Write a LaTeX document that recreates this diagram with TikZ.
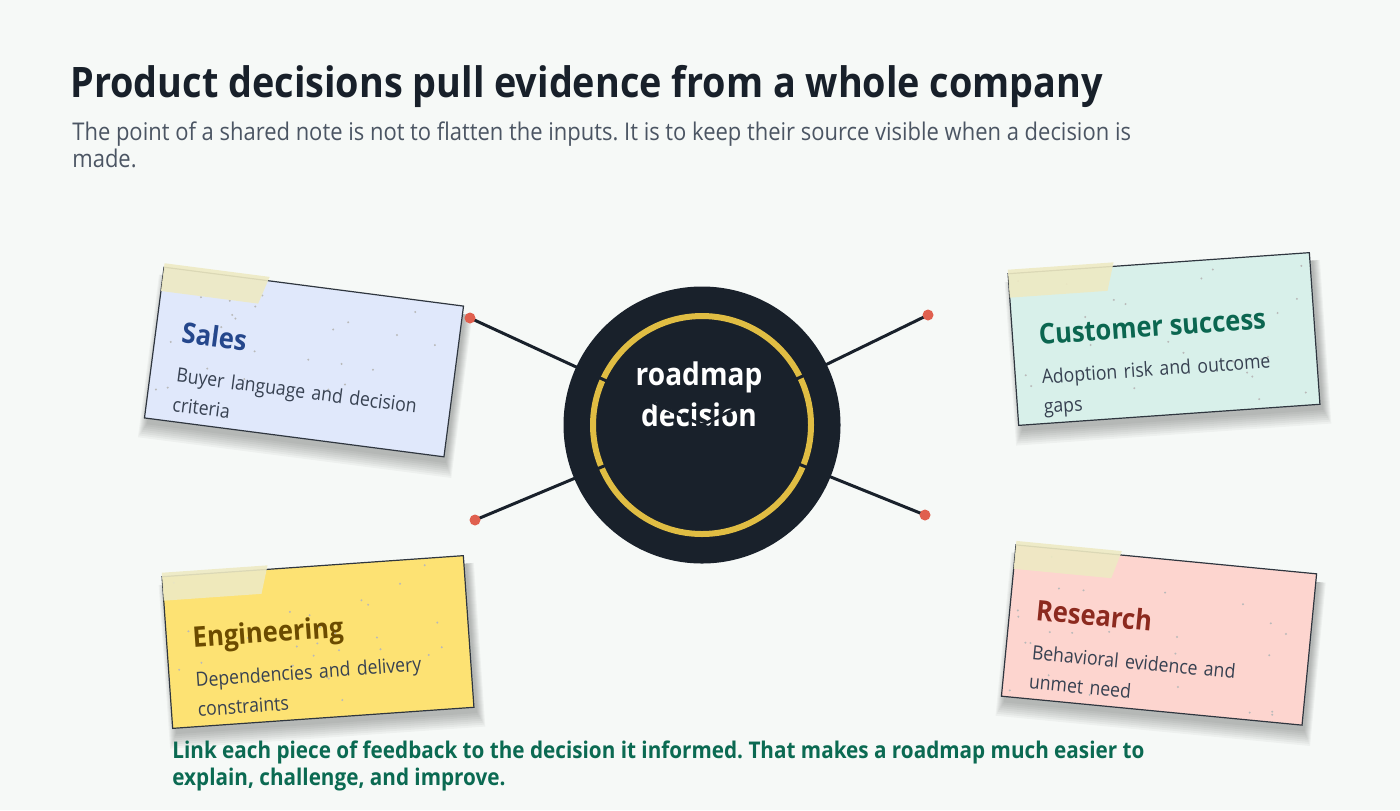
\documentclass[tikz,border=0pt]{standalone}
\usepackage{fontspec}
\setmainfont{Open Sans}[FakeStretch=0.9]
\usepackage{tikz}
\usetikzlibrary{positioning,calc}
\frenchspacing
\definecolor{paper}{HTML}{F6F9F7}
\definecolor{ink}{HTML}{18202A}
\definecolor{subink}{HTML}{4B5563}
\definecolor{hubfill}{HTML}{19212B}
\definecolor{ringcol}{HTML}{E0BD43}
\definecolor{pin}{HTML}{E0604F}
\definecolor{linkcol}{HTML}{19212B}
\definecolor{tapecol}{HTML}{EEEAC3}
\definecolor{bodyink}{HTML}{374151}
\definecolor{salesfill}{HTML}{E0E8FB}
\definecolor{salesink}{HTML}{25478C}
\definecolor{csfill}{HTML}{D8F0EA}
\definecolor{csink}{HTML}{0B6650}
\definecolor{engfill}{HTML}{FDE273}
\definecolor{engink}{HTML}{6B4B00}
\definecolor{resfill}{HTML}{FDD5CF}
\definecolor{resink}{HTML}{8C2A1F}
\definecolor{takeaway}{HTML}{0B6A52}

\begin{document}
\begin{tikzpicture}[x=0.5pt,y=-0.5pt,
  notebox/.style={draw=ink!90,line width=0.6pt,minimum width=151pt,minimum height=76pt,inner sep=0pt},
  tape/.style={fill=tapecol,opacity=.9},
  speck/.style={fill=gray!55},
  softshadow/.style={fill=black,opacity=.035},
  notehead/.style={anchor=base west,inner sep=0pt,font=\fontsize{14.2}{16}\selectfont\bfseries},
  notebody/.style={anchor=north west,inner sep=0pt,align=left,text width=135pt,text=bodyink,font=\fontsize{9.8}{14.8}\selectfont},
  link/.style={linkcol,line width=1.5pt},
  pinpt/.style={circle,fill=pin,minimum size=5.5pt,inner sep=0pt}]
 \fill[paper] (0,0) rectangle (1400,810);
 \useasboundingbox (0,0) rectangle (1400,810);

 \node[anchor=base west,inner sep=0pt,text=ink,font=\fontsize{21}{25}\selectfont\bfseries] (title) at (70,97) {Product decisions pull evidence from a whole company};
 \node[anchor=north west,inner sep=0pt,align=left,text=subink,font=\fontsize{12.2}{13.6}\selectfont] (sub) at (72,121) {The point of a shared note is not to flatten the inputs. It is to keep their source visible when a decision is\\made.};

 % sticky notes
 \pgfmathsetseed{11}
 \foreach \nm/\cx/\cy/\ang/\fc/\tc/\hd/\bd in {
   sales/304/362/-7.4/salesfill/salesink/Sales/{Buyer language and decision\\criteria},
   cs/1164/339/4/csfill/csink/Customer success/{Adoption risk and outcome\\gaps},
   eng/318/642/4/engfill/engink/Engineering/{Dependencies and delivery\\constraints},
   res/1159/635/-5.5/resfill/resink/Research/{Behavioral evidence and\\unmet need}}{
  \begin{scope}[shift={(\cx,\cy)},rotate=\ang,transform shape]
   \foreach \s in {0,2,...,14}
    \fill[softshadow] ({-148-\s/2},-68) rectangle ({154+\s/2},{82+\s});
   \node[notebox,fill=\fc] (\nm) at (0,0) {};
   \foreach \i in {1,...,26}
    \fill[speck] ({rnd*290-145},{rnd*140-70}) circle[radius=1.1];
   \fill[tape] (-151,-80) -- (-45,-80) -- (-53,-52) -- (-151,-52) -- cycle;
   \node[notehead,text=\tc] (\nm-hd) at (-125,-3) {\hd};
   \node[notebody] (\nm-bd) at (-125,21) {\bd};
  \end{scope}
 }

 % hub
 \node[circle,fill=hubfill,minimum size=138.5pt,inner sep=0pt] (hub) at (702,425) {};
 \draw[ringcol,line width=3pt] (hub.center) circle[radius=109];
 \node[align=center,text=white,font=\fontsize{15.6}{20.5}\selectfont\bfseries] (hublbl) at (699,394) {roadmap\\decision};

 \coordinate (psales) at (470,318);
 \coordinate (pcs) at (928,315);
 \coordinate (peng) at (475,520);
 \coordinate (pres) at (925,515);
 \foreach \p in {psales,pcs,peng,pres}
  \draw[link] (\p) -- (hub.center);
 \foreach \p in {psales,pcs,peng,pres}
  \node[pinpt] at (\p) {};

 \node[anchor=north west,inner sep=0pt,align=left,text=takeaway,font=\fontsize{11.5}{13.5}\selectfont\bfseries] (takeaway) at (172,740) {Link each piece of feedback to the decision it informed. That makes a roadmap much easier to\\explain, challenge, and improve.};
\end{tikzpicture}
\end{document}
